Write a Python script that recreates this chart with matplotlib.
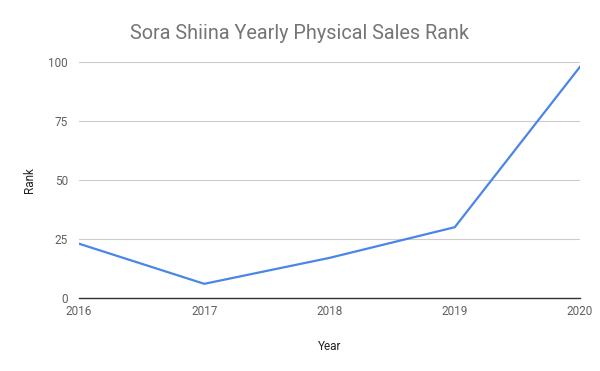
import matplotlib.pyplot as plt

plt.rcParams['font.family'] = ['Roboto', 'DejaVu Sans']

years = [2016, 2017, 2018, 2019, 2020]
ranks = [23, 6, 17, 30, 98]
y_ticks = [0, 25, 50, 75, 100]

fig = plt.figure(figsize=(6, 3.71), dpi=100)
ax = fig.add_axes([0.1317, 0.1968, 0.835, 0.636])

ax.plot(years, ranks, color='#4a86e8', lw=1.6, solid_joinstyle='round')

ax.set_xlim(2016, 2020)
ax.set_ylim(0, 100)
ax.set_xticks(years)
ax.set_xticklabels([str(y) for y in years])
ax.set_yticks(y_ticks)
ax.grid(axis='y', color='#cccccc', lw=0.8)
ax.set_axisbelow(True)

for side in ('top', 'right', 'left'):
    ax.spines[side].set_visible(False)
ax.spines['bottom'].set_color('#333333')
ax.spines['bottom'].set_linewidth(1)

ax.tick_params(axis='both', length=0, colors='#616161', labelsize=8.5)
ax.tick_params(axis='x', pad=5)
ax.tick_params(axis='y', pad=8)

ax.set_xlabel('Year', fontsize=8.5, color='#222222', labelpad=16)
ax.set_ylabel('Rank', fontsize=8.5, color='#222222', labelpad=9)

fig.text(0.5, 0.91, 'Sora Shiina Yearly Physical Sales Rank', ha='center', va='center',
         fontsize=14.3, color='#757575')

fig.savefig('out.png', dpi=100)
